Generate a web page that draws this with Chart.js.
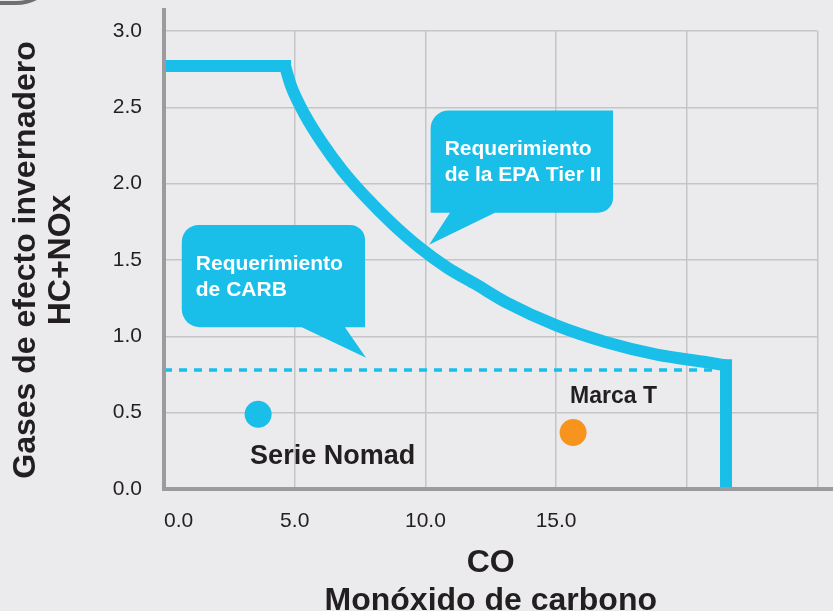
<!DOCTYPE html>
<html lang="es">
<head>
<meta charset="utf-8">
<title>HC+NOx frente a CO</title>
<script src="https://cdn.jsdelivr.net/npm/chart.js@4.4.1/dist/chart.umd.min.js"></script>
<style>
  html, body { margin: 0; padding: 0; background: #ebebed; overflow: hidden; }
  #wrap { position: relative; width: 833px; height: 611px; }
  #corner {
    position: absolute; left: -200px; top: -100px; width: 261px; height: 105px;
    box-sizing: border-box; border: 4px solid #6f6f6f; border-radius: 0 0 45px 0;
  }
  canvas { position: absolute; left: 0; top: 0; }
</style>
</head>
<body>
<div id="wrap">
  <div id="corner"></div>
  <canvas id="chart" width="833" height="611"></canvas>
</div>
<script>
// Values (x = CO, y = HC+NOx)
const epaFlatX = [0, 4.63];
const epaFlatY = [2.77, 2.77];
const epaCurveX = [4.63, 4.86, 5.39, 6.04, 6.81, 7.73, 8.72, 9.79, 10.83, 11.94, 13.12, 15.03, 16.95, 18.86, 20.77, 21.5];
const epaCurveY = [2.77, 2.64, 2.45, 2.27, 2.09, 1.91, 1.74, 1.58, 1.45, 1.34, 1.22, 1.07, 0.96, 0.88, 0.83, 0.81];
const epaDropX = [21.5, 21.5];
const epaDropY = [0.81, 0];
const carbX = [0, 21.2];
const carbY = [0.78, 0.78];
const products = ['Serie Nomad', 'Marca T'];
const productX = [3.6, 15.65];
const productY = [0.49, 0.37];
const xTicks = [0, 5, 10, 15, 20, 25];
const xTickLabels = ['0.0', '5.0', '10.0', '15.0', '', ''];
const yTicks = [0, 0.5, 1, 1.5, 2, 2.5, 3];
const yTickLabels = ['0.0', '0.5', '1.0', '1.5', '2.0', '2.5', '3.0'];

// Colours and drawing settings
const cyan = '#19bfe9';
const orange = '#f7941d';
const ink = '#231f20';
const gridGrey = '#c5c5c7';
const axisGrey = '#9b9b9d';
const fontFamily = '"Liberation Sans", Arial, Helvetica, sans-serif';
const yAxisTop = 3.15;

// Speech-bubble callouts, placed in data units: box [left, top, right, bottom], tail [baseA, baseB, tipX, tipY]
const callouts = [
  { lines: ['Requerimiento', 'de la EPA Tier II'], box: [10.2, 2.48, 17.18, 1.81], tail: [12.66, 10.94, 10.14, 1.60], radii: [18, 0, 15, 0] },
  { lines: ['Requerimiento', 'de CARB'], box: [0.68, 1.73, 7.69, 1.06], tail: [6.92, 5.27, 7.73, 0.86], radii: [17, 15, 0, 18] }
];
const productLabelStyle = [
  { dx: -8, dy: 42, size: 27 },
  { dx: -3, dy: -36, size: 23 }
];

Chart.defaults.font.family = fontFamily;
Chart.defaults.color = ink;

function toPoints(xs, ys) {
  return xs.map((x, i) => ({ x: x, y: ys[i] }));
}

// thick EPA line pieces share these settings
function epaLine(label, xs, ys, extra) {
  return Object.assign({
    label: label,
    data: toPoints(xs, ys),
    showLine: true,
    borderColor: cyan,
    borderWidth: 12,
    pointRadius: 0,
    clip: { left: 0, top: 8, right: 8, bottom: 0 }
  }, extra);
}

const chartExtras = {
  id: 'chartExtras',
  afterDatasetsDraw(chart) {
    const { ctx, scales: { x, y } } = chart;
    ctx.save();
    callouts.forEach(c => {
      const l = x.getPixelForValue(c.box[0]), t = y.getPixelForValue(c.box[1]);
      const r = x.getPixelForValue(c.box[2]), b = y.getPixelForValue(c.box[3]);
      const [rtl, rtr, rbr, rbl] = c.radii;
      ctx.beginPath();
      ctx.moveTo(l + rtl, t);
      ctx.arcTo(r, t, r, b, rtr);
      ctx.arcTo(r, b, l, b, rbr);
      ctx.lineTo(x.getPixelForValue(c.tail[0]), b);
      ctx.lineTo(x.getPixelForValue(c.tail[2]), y.getPixelForValue(c.tail[3]));
      ctx.lineTo(x.getPixelForValue(c.tail[1]), b);
      ctx.arcTo(l, b, l, t, rbl);
      ctx.arcTo(l, t, r, t, rtl);
      ctx.closePath();
      ctx.fillStyle = cyan;
      ctx.fill();

      ctx.fillStyle = '#ffffff';
      ctx.font = 'bold 21px ' + fontFamily;
      ctx.textAlign = 'left';
      ctx.textBaseline = 'middle';
      c.lines.forEach((line, i) => ctx.fillText(line, l + 14, t + 39 + i * 26));
    });

    products.forEach((name, i) => {
      const s = productLabelStyle[i];
      ctx.fillStyle = ink;
      ctx.font = 'bold ' + s.size + 'px ' + fontFamily;
      ctx.textAlign = 'left';
      ctx.textBaseline = 'middle';
      ctx.fillText(name, x.getPixelForValue(productX[i]) + s.dx, y.getPixelForValue(productY[i]) + s.dy);
    });
    ctx.restore();
  },
  afterDraw(chart) {
    // axis lines run on past the grid, as in the original
    const { ctx, chartArea: a, scales: { y } } = chart;
    ctx.save();
    ctx.strokeStyle = axisGrey;
    ctx.lineWidth = 4;
    ctx.beginPath();
    ctx.moveTo(a.right, a.bottom);
    ctx.lineTo(chart.width, a.bottom);
    ctx.moveTo(a.left, a.top);
    ctx.lineTo(a.left, y.getPixelForValue(yAxisTop));
    ctx.stroke();
    ctx.restore();
  }
};

new Chart(document.getElementById('chart'), {
  type: 'scatter',
  data: {
    datasets: [
      {
        label: 'Productos',
        data: toPoints(productX, productY),
        backgroundColor: [cyan, orange],
        pointRadius: 13.5,
        pointHoverRadius: 13.5,
        borderWidth: 0
      },
      epaLine('Requerimiento de la EPA Tier II', epaFlatX, epaFlatY, { borderCapStyle: 'square' }),
      epaLine('Requerimiento de la EPA Tier II (curva)', epaCurveX, epaCurveY, { cubicInterpolationMode: 'monotone' }),
      epaLine('Requerimiento de la EPA Tier II (CO)', epaDropX, epaDropY, { borderCapStyle: 'square' }),
      {
        label: 'Requerimiento de CARB',
        data: toPoints(carbX, carbY),
        showLine: true,
        borderColor: cyan,
        borderWidth: 3.5,
        borderDash: [8, 7],
        pointRadius: 0
      }
    ]
  },
  options: {
    responsive: false,
    animation: false,
    layout: { padding: 0 },
    plugins: {
      legend: { display: false },
      tooltip: { enabled: false }
    },
    scales: {
      x: {
        type: 'linear',
        min: 0,
        max: 25,
        afterBuildTicks: s => { s.ticks = xTicks.map(v => ({ value: v })); },
        ticks: {
          callback: (v, i) => xTickLabels[i],
          font: { size: 21, lineHeight: 1.62 },
          padding: 15.5,
          align: 'inner',
          maxRotation: 0,
          autoSkip: false
        },
        grid: { color: gridGrey, lineWidth: 1.5, drawTicks: false },
        border: { color: axisGrey, width: 4, z: 1 },
        title: {
          display: true,
          text: ['CO', 'Monóxido de carbono'],
          font: { size: 32, weight: 'bold', lineHeight: 1.1875 },
          padding: { top: -10, bottom: -9 }
        }
      },
      y: {
        type: 'linear',
        min: 0,
        max: 3,
        afterBuildTicks: s => { s.ticks = yTicks.map(v => ({ value: v })); },
        ticks: {
          callback: (v, i) => yTickLabels[i],
          font: { size: 21, lineHeight: 0.857 },
          padding: 22,
          autoSkip: false
        },
        grid: { color: gridGrey, lineWidth: 1.5, drawTicks: false },
        border: { color: axisGrey, width: 4, z: 1 },
        title: {
          display: true,
          text: ['Gases de efecto invernadero', 'HC+NOx'],
          font: { size: 32, weight: 'bold', lineHeight: 1.08 },
          padding: { top: 9, bottom: 12.7 }
        }
      }
    }
  },
  plugins: [chartExtras]
});
</script>
</body>
</html>
